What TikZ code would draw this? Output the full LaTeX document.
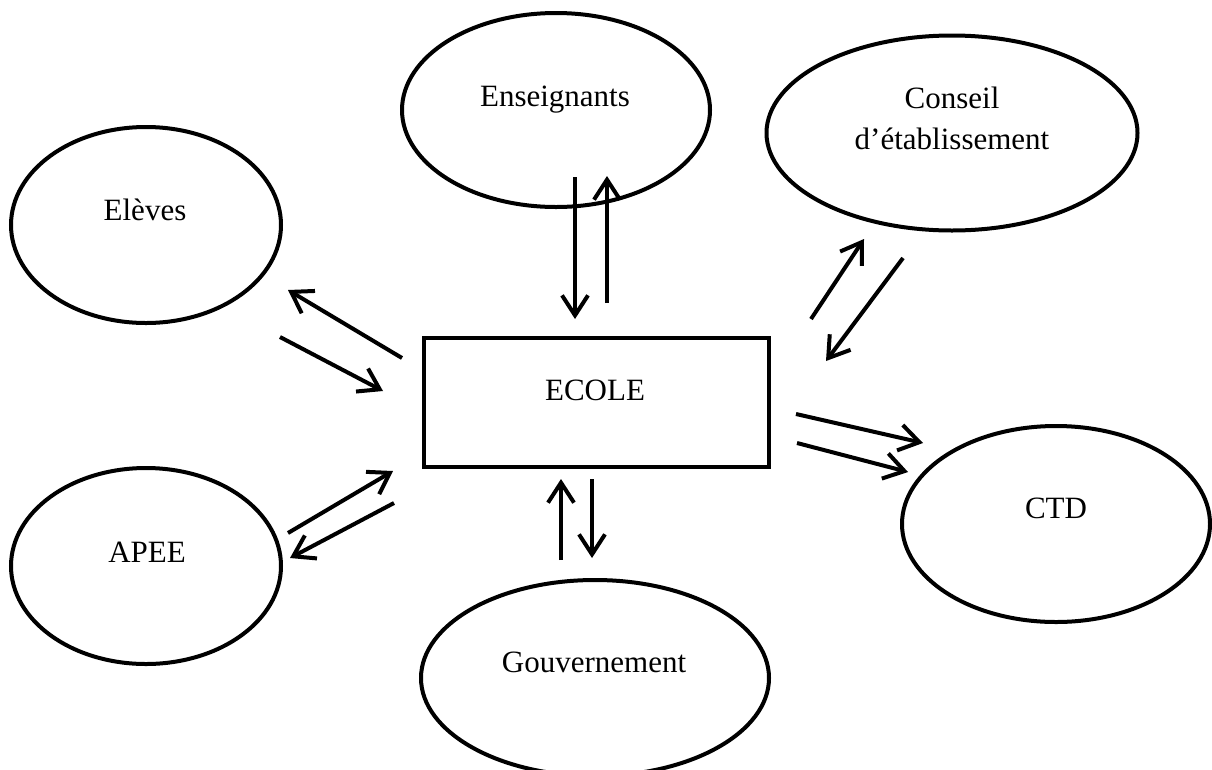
\documentclass[tikz,border=0pt]{standalone}
\usepackage{fontspec}
\setmainfont{Liberation Serif}
\usetikzlibrary{shapes.geometric,arrows.meta}
\tikzset{
  ell/.style={draw, ellipse, line width=4pt, inner sep=0pt},
  txt/.style={inner sep=0pt, anchor=base, font=\fontsize{31}{41}\selectfont, align=center},
  flow/.style={line width=4pt, -{Straight Barb[length=20pt,width=26pt]}},
}
\begin{document}
\begin{tikzpicture}[x=1pt,y=-1pt]
\useasboundingbox (0,0) rectangle (1212,769);
% ellipses
\node[ell, minimum width=308pt, minimum height=194pt] (ens) at (556,110) {};
\node[ell, minimum width=371pt, minimum height=195pt] (cons) at (952,133) {};
\node[ell, minimum width=270pt, minimum height=196pt] (elev) at (146,225) {};
\node[ell, minimum width=270pt, minimum height=196pt] (apee) at (146,566) {};
\node[ell, minimum width=348pt, minimum height=196pt] (gouv) at (595,678) {};
\node[ell, minimum width=308pt, minimum height=196pt] (ctd) at (1056,524) {};
\node[draw, line width=4.5pt, minimum width=345pt, minimum height=129pt, inner sep=0pt] (ecole) at (596.5,402.5) {};
% texts
\node[txt] (tens) at (555,106) {Enseignants};
\node[txt] (tcons) at (952,149) {Conseil\\d’établissement};
\node[txt] (telev) at (145,220) {Elèves};
\node[txt] (tapee) at (147,562) {APEE};
\node[txt] (tgouv) at (594,672) {Gouvernement};
\node[txt] (tctd) at (1056,518) {CTD};
\node[txt] (tecole) at (595,400) {ECOLE};
% arrow end points
\coordinate (e1a) at (575,177); \coordinate (e1b) at (575,319);
\coordinate (e2a) at (607,303); \coordinate (e2b) at (607,176);
\coordinate (c1a) at (811,319); \coordinate (c1b) at (864,239);
\coordinate (c2a) at (903,258); \coordinate (c2b) at (826,361);
\coordinate (t1a) at (796,414); \coordinate (t1b) at (923,443);
\coordinate (t2a) at (797,443); \coordinate (t2b) at (908,472);
\coordinate (l1a) at (402,358); \coordinate (l1b) at (288,290);
\coordinate (l2a) at (280,337); \coordinate (l2b) at (383,391);
\coordinate (p1a) at (288,533); \coordinate (p1b) at (393,471);
\coordinate (p2a) at (394,503); \coordinate (p2b) at (290,558);
\coordinate (g1a) at (561,560); \coordinate (g1b) at (561,479);
\coordinate (g2a) at (592,479); \coordinate (g2b) at (592,558);
\draw[flow] (e1a) -- (e1b);
\draw[flow] (e2a) -- (e2b);
\draw[flow] (c1a) -- (c1b);
\draw[flow] (c2a) -- (c2b);
\draw[flow] (t1a) -- (t1b);
\draw[flow] (t2a) -- (t2b);
\draw[flow] (l1a) -- (l1b);
\draw[flow] (l2a) -- (l2b);
\draw[flow] (p1a) -- (p1b);
\draw[flow] (p2a) -- (p2b);
\draw[flow] (g1a) -- (g1b);
\draw[flow] (g2a) -- (g2b);
\end{tikzpicture}
\end{document}
